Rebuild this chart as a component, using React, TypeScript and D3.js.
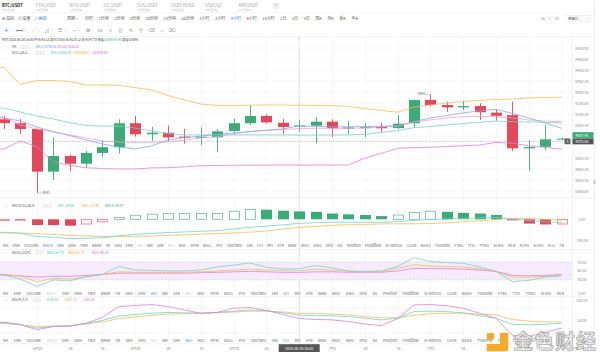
import React from "react";
import * as d3 from "d3";

const W = 600;
const H = 352;
const FONT = '"Noto Sans CJK SC", "Noto Sans", sans-serif';

const GREEN = "#3dab78";
const RED = "#e2475a";
const TEAL = "#72d3c6";
const ORANGE = "#f2bd5a";
const MAGENTA = "#e07fd6";
const BLUE = "#8ea5ea";
const PINK = "#f2a5cb";
const ACTIVE = "#3b7df0";
const GRID = "#f2f2f2";
const AXIS_TXT = "#8a8a8a";

// ---------- categories / labels ----------
const pairs = ["BTC/USDT", "ETH/USDT", "BCH/USDT", "LTC/USDT", "EOS/USDT", "USDT/HUSD", "USDT/QC", "XRP/USDT"];
const pairSub = "火币全球站";
const periods = ["分时", "1分钟", "3分钟", "5分钟", "10分钟", "15分钟", "30分钟", "1小时", "2小时", "4小时", "6小时", "12小时", "1日", "3日", "5日", "周K", "月K", "季K", "年K"];
const activePeriod = "4小时";
const indicatorTabs = ["MA", "EMA", "VOLUME", "MACD", "DMI", "DMA", "TRIX", "BRAR", "VR", "OBV", "EMV", "RSI", "WR", "SAR", "KDJ", "ROC", "MTM", "BOLL", "PSY", "StochRSI", "SMI", "CCI", "MFI", "ATR", "BBW", "SKDJ", "BIAS", "DPO", "AO", "Position", "Fundflow", "AI-NetVOL", "LSUR", "BASIS", "TVolume", "FTBS", "TTSI", "TTMU", "AI-BSI", "MLR", "AI-PD", "AI-FDI", "AI-LI", "FR"];
const toolIcons = ["✛", "⟷", "⟋", "⊿", "☰", "⤳", "⊞", "Aa", "⌗", "⊘", "✎", "⚲", "⌫", "⌂", "⌦"];

const axisLabelIndex = [2, 4, 6, 8, 10, 12, 14, 16, 20, 22, 24, 26, 28, 30, 32];
const axisLabels = ["6月28", "08", "16", "6月29", "08", "16", "6月30", "08", "7月1", "08", "16", "7月2", "08", "16", "7月3"];
const crossIndex = 18;
const crossTime = "2020-06-30 16:00";
const crossPrice = 9075.68;
const lastPrice = 9087.91;
const lowMark = 8841;
const highMark = 9290;

const priceLabelTicks = [9500, 9450, 9400, 9350, 9300, 9250, 9200, 9150, 9000, 8950, 8900, 8850];
const priceGridTicks = [9500, 9450, 9400, 9350, 9300, 9250, 9200, 9150, 9100, 9050, 9000, 8950, 8900, 8850];
const macdTicks = [0, -100];
const rsiTicks = [70, 50, 30, 0];
const kdjTicks = [100, 50];

// ---------- candles (4h) ----------
const opens = [9176, 9158, 9132, 8938, 9009, 8974, 9023, 9049, 9158, 9108, 9115, 9097, 9092, 9094, 9123, 9158, 9191, 9160, 9143.13, 9147, 9165, 9133, 9138, 9141, 9136, 9158, 9264, 9241, 9230, 9236, 9206, 9195, 9044, 9051, 9084];
const highs = [9191, 9177, 9132, 9092, 9017, 9032, 9080, 9176, 9191, 9142, 9147, 9132, 9140, 9132, 9180, 9238, 9199, 9177, 9173.65, 9186, 9176, 9170, 9158, 9160, 9195, 9266, 9290, 9256, 9260, 9249, 9218, 9256, 9079, 9150, 9092];
const lows = [9132, 9110, 8841, 8900, 8941, 8956, 9006, 9021, 9097, 9077, 9077, 9065, 9059, 9026, 9105, 9150, 9156, 9110, 9119.12, 9067, 9095, 9108, 9094, 9117, 9132, 9138, 9233, 9210, 9218, 9173, 9170, 9032, 8941, 9036, 9082];
const closes = [9158, 9132, 8938, 9009, 8974, 9023, 9049, 9158, 9108, 9115, 9094, 9092, 9097, 9121, 9158, 9191, 9162, 9141, 9147.73, 9165, 9135, 9139, 9140, 9135, 9156, 9264, 9241, 9230, 9236, 9208, 9192, 9044, 9050, 9085, 9087.91];

// ---------- overlays ----------
const ma7 = [9182, 9168, 9141, 9120, 9102, 9082, 9064, 9050, 9041, 9055, 9082, 9093, 9100, 9107, 9114, 9120, 9127, 9132, 9146.35, 9143, 9142, 9142, 9143, 9143, 9147, 9165, 9182, 9193, 9205, 9214, 9221, 9203, 9182, 9159, 9135];
const ma10 = [9186, 9150, 9132, 9118, 9105, 9091, 9077, 9073, 9071, 9071, 9073, 9082, 9091, 9097, 9109, 9120, 9125, 9130, 9133.33, 9135, 9135, 9135, 9136, 9141, 9145, 9164, 9173, 9182, 9188, 9189, 9188, 9182, 9173, 9168, 9165];
const bollMid = [9227, 9209, 9191, 9177, 9161, 9148, 9145, 9145, 9136, 9123, 9111, 9105, 9105, 9105, 9105, 9105, 9105, 9105, 9103.73, 9104, 9105, 9105, 9107, 9116, 9125, 9138, 9143, 9150, 9157, 9162, 9168, 9165, 9164, 9162, 9160];
const bollUp = [9412, 9335, 9352, 9352, 9348, 9332, 9332, 9330, 9320, 9309, 9284, 9264, 9245, 9239, 9238, 9240, 9241, 9241, 9239.61, 9239, 9238, 9234, 9225, 9216, 9208, 9232, 9241, 9250, 9257, 9262, 9266, 9268, 9273, 9275, 9276];
const bollLow = [9041, 9077, 9051, 8983, 8966, 8956, 8952, 8950, 8950, 8955, 8956, 8960, 8965, 8966, 8967, 8967, 8968, 8968, 8968.05, 8968, 8968, 8968, 8999, 9021, 9044, 9047, 9049, 9052, 9056, 9059, 9071, 9067, 9056, 9048, 9040];

// ---------- MACD ----------
const macdHist = [-5, -4, -27, -27, -30, -22, -12, 8, 19, 24, 27, 27, 27, 27, 38, 46, 45, 40, 36.97, 35, 27, 23, 20, 15, 20, 32, 38, 35, 30, 27, 20, -5, -20, -24, -22];
const macdDif = [-63, -66, -80, -84, -90, -89, -86, -77, -70, -66, -62, -59, -56, -53, -45, -37, -32, -26, -19.0, -16, -14, -14, -14, -14, -11, -5, -1, 1, 4, 7, 9, 2, -6, -12, -15];
const macdDea = [-60.5, -64, -67, -71, -75, -78, -80, -81, -79.5, -78, -75.5, -72.5, -69.5, -66.5, -64, -60, -54.5, -46, -37.49, -33.5, -27.5, -25.5, -24, -21.5, -21, -21, -20, -16.5, -11, -6.5, -1, 4.5, 4, 0, -4];

// ---------- RSI ----------
const rsi1 = [41, 32, 15, 30, 27.5, 37, 42.5, 60, 52, 51.5, 50, 50, 52, 59, 63, 68, 58, 54.5, 54.73, 62, 57, 50, 49, 50, 60, 80, 71, 69, 67, 59, 49, 26, 29, 36.5, 39];
const rsi2 = [42.5, 38, 26, 33.5, 32, 37, 42, 48, 47, 47, 47, 47, 48, 50, 52, 54, 52, 51, 50.17, 54, 52, 49, 48, 48, 56, 64, 61, 60, 59, 55, 49, 36, 36, 38, 41];
const rsi3 = [41, 39, 36, 38, 38, 40, 42, 45, 45, 45, 45, 45, 46, 47, 48, 49, 48, 47, 46.76, 48, 48, 47, 47, 47, 50, 56, 55, 55, 54, 52, 49, 40, 39, 40, 42];

// ---------- KDJ ----------
const kdjK = [45, 40, 32, 36, 37, 43, 51, 61, 65, 68, 70, 69, 68, 70, 73, 76, 74, 69, 63.51, 62, 62, 60, 56, 52, 56, 72, 73, 72, 69, 62, 56, 41, 40, 41, 44];
const kdjD = [44, 40, 36, 37, 38, 43, 47, 55, 59, 63, 66, 67, 68, 69, 71, 73, 73, 71, 67.71, 67, 66, 64, 60, 57, 57, 63, 67, 68, 68, 66, 64, 53, 49, 47, 47];
const kdjJ = [46, 41, 28, 36, 37, 44, 58, 84, 87, 89, 84, 76, 68, 70, 80, 82, 75, 65, 55.1, 53, 52, 48, 42, 38, 55, 88, 89, 86, 80, 68, 56, 15, 12, 22, 32];

// ---------- helpers ----------
let ctx: CanvasRenderingContext2D | null = null;
function measure(text: string, size: number, weight = "normal") {
  if (!ctx) ctx = document.createElement("canvas").getContext("2d");
  if (!ctx) return text.length * size * 0.55;
  ctx.font = `${weight} ${size}px ${FONT}`;
  return ctx.measureText(text).width;
}
function justify(words: string[], size: number, x0: number, x1: number) {
  const ws = words.map((w) => measure(w, size));
  const total = ws.reduce((a, b) => a + b, 0);
  const gap = (x1 - x0 - total) / (words.length - 1);
  let cx = x0;
  return words.map((w, i) => {
    const r = { w, x: cx };
    cx += ws[i] + gap;
    return r;
  });
}

function Boxes({ x, y }: { x: number; y: number }) {
  return (
    <g fill="none" stroke="#c6c6c6" strokeWidth={0.4}>
      <rect x={x} y={y - 2.6} width={3} height={3} rx={0.4} />
      <rect x={x + 4.4} y={y - 2.6} width={3} height={3} rx={0.4} />
    </g>
  );
}

function TabRow({ words, y, active, dim }: { words: string[]; y: number; active: string; dim: string[] }) {
  const laid = justify(words, 3.7, 3, 564);
  return (
    <g fontSize={3.7}>
      {laid.map((d, i) => (
        <text key={i} x={d.x} y={y} fill={d.w === active ? ACTIVE : dim.includes(d.w) ? "#c9c9c9" : "#666"}>
          {d.w}
        </text>
      ))}
    </g>
  );
}

export default function App() {
  const n = opens.length;
  const idx = d3.range(n);
  const x = d3.scaleLinear().domain([0, n - 1]).range([4, 561.6]);
  const cxs = idx.map((i) => Math.round(x(i)) + 0.5);
  const yMain = d3.scaleLinear().domain([8850, 9500]).range([191, 48]);
  const yMacd = d3.scaleLinear().domain([-100, 0]).range([240.7, 219.3]);
  const yRsi = d3.scaleLinear().domain([0, 70]).range([293.3, 262]);
  const yKdj = d3.scaleLinear().domain([0, 100]).range([341.4, 300]);

  const PLOT_R = 572;
  const path = (arr: number[], y: d3.ScaleLinear<number, number>) => {
    const pts: [number, number][] = [[0, y(arr[0])], ...arr.map((v, i) => [x(i), y(v)] as [number, number])];
    return d3.line()(pts) || "";
  };

  const bodyW = 11;
  const crossY = yMain(crossPrice);
  const darkCenter = crossY;
  const greenCenter = Math.min(yMain(lastPrice), darkCenter - 6.2);
  const axisX = 582;

  const periodLaid = justify(periods, 4, 85, 358);

  return (
    <div style={{ position: "fixed", left: 0, top: 0, width: W, height: H, background: "#fff" }}>
      <svg width={W} height={H} style={{ display: "block", fontFamily: FONT }}>
        <defs>
          <clipPath id="mainClip">
            <rect x={0} y={36.5} width={PLOT_R} height={161} />
          </clipPath>
          <clipPath id="subClip">
            <rect x={0} y={198} width={PLOT_R} height={146} />
          </clipPath>
        </defs>
        <rect x={0} y={0} width={W} height={H} fill="#fff" />

        {/* ---------- header ---------- */}
        <g>
          {pairs.map((p, i) => (
            <g key={p}>
              <text x={2 + i * 33.8} y={7} fontSize={4.2} fontWeight={i === 0 ? 700 : 400} fill={i === 0 ? "#222" : "#9a9a9a"}>
                {p}
              </text>
              <text x={2 + i * 33.8} y={11.4} fontSize={2.5} fill="#b5b5b5">
                {pairSub}
              </text>
            </g>
          ))}
          <rect x={273.5} y={3.5} width={5} height={5} fill="#f4f4f4" stroke="#d8d8d8" strokeWidth={0.4} />
          <text x={276} y={7.3} fontSize={4} fill="#aaa" textAnchor="middle">
            ×
          </text>
          <line x1={0} x2={594} y1={12.8} y2={12.8} stroke="#ececec" strokeWidth={0.6} />

          {/* row 2 */}
          <g fontSize={4} fill="#555">
            <text x={2} y={19.7}>⊟</text>
            <text x={6.5} y={19.7}>指标</text>
            <text x={18} y={19.7}>⊙</text>
            <text x={22.5} y={19.7}>设置</text>
            <text x={34} y={19.7} fill={ACTIVE}>⤢</text>
            <text x={38.5} y={19.7} fill={ACTIVE}>画线</text>
            <text x={67} y={19.7}>周期</text>
            <text x={75.5} y={19.5} fontSize={2.6} fill="#888">▾</text>
            {periodLaid.map((d, i) => (
              <text key={i} x={d.x} y={19.7} fill={d.w === activePeriod ? ACTIVE : "#555"}>
                {d.w}
              </text>
            ))}
            <text x={541} y={19.7} fontSize={3.6} fill="#666">1s</text>
            <text x={548} y={19.7} fontSize={4} fill="#777">⛶</text>
            <text x={555} y={19.7} fontSize={4} fill="#777">❐</text>
            <rect x={566} y={15.3} width={24.5} height={6} fill="#fff" stroke="#dcdcdc" strokeWidth={0.5} rx={0.6} />
            <text x={568} y={19.6} fontSize={3.4} fill="#444">单窗口</text>
            <text x={586.5} y={19.3} fontSize={2.4} fill="#888">▾</text>
          </g>

          {/* row 3 tool icons */}
          <g fontSize={4.6} fill="#8d8d8d" textAnchor="middle">
            {toolIcons.map((g, i) => {
              const ix = i < 7 ? 6 + i * 13.6 : 100 + (i - 7) * 10.3;
              return (
                <g key={i}>
                  <text x={ix} y={31.8} fill={i === 0 ? ACTIVE : "#8d8d8d"} fontSize={g === "Aa" ? 3.8 : 4.6}>
                    {g}
                  </text>
                  {i < 7 && (
                    <text x={ix + 5} y={31.4} fontSize={2.3} fill="#9a9a9a">
                      ▾
                    </text>
                  )}
                </g>
              );
            })}
          </g>
          <line x1={0} x2={594} y1={36.5} y2={36.5} stroke="#ececec" strokeWidth={0.6} />
        </g>

        {/* ---------- grids ---------- */}
        <g stroke={GRID} strokeWidth={0.6}>
          {priceGridTicks.map((t) => (
            <line key={t} x1={0} x2={PLOT_R} y1={yMain(t)} y2={yMain(t)} />
          ))}
          {d3.range(2, n, 2).map((i) => (
            <line key={i} x1={cxs[i]} x2={cxs[i]} y1={36.5} y2={343.8} />
          ))}
        </g>

        {/* pane separators */}
        <g stroke="#e6e6e6" strokeWidth={0.6}>
          <line x1={0} x2={594} y1={197.8} y2={197.8} />
          <line x1={0} x2={594} y1={249.6} y2={249.6} />
          <line x1={0} x2={594} y1={296.8} y2={296.8} />
          <line x1={0} x2={594} y1={343.8} y2={343.8} />
          <line x1={PLOT_R + 0.3} x2={PLOT_R + 0.3} y1={36.5} y2={343.8} />
          <line x1={594.5} x2={594.5} y1={0} y2={H} />
        </g>
        <rect x={593.6} y={180} width={1.8} height={4} fill="#bdbdbd" />

        {/* ---------- main pane ---------- */}
        <g clipPath="url(#mainClip)">
          {idx.map((i) => {
            const up = closes[i] >= opens[i];
            const c = up ? GREEN : RED;
            const top = yMain(Math.max(opens[i], closes[i]));
            const bot = yMain(Math.min(opens[i], closes[i]));
            return (
              <g key={i}>
                <line x1={cxs[i]} x2={cxs[i]} y1={yMain(highs[i])} y2={yMain(lows[i])} stroke={c} strokeWidth={0.9} />
                <rect x={cxs[i] - bodyW / 2} y={top} width={bodyW} height={Math.max(1, bot - top)} fill={c} />
              </g>
            );
          })}
          <g fill="none" strokeWidth={0.8}>
            <path d={path(bollUp, yMain)} stroke={ORANGE} />
            <path d={path(bollMid, yMain)} stroke={TEAL} />
            <path d={path(bollLow, yMain)} stroke={MAGENTA} />
            <path d={path(ma10, yMain)} stroke={PINK} />
            <path d={path(ma7, yMain)} stroke={BLUE} />
          </g>
          <line x1={0} x2={PLOT_R} y1={crossY} y2={crossY} stroke="#9a9a9a" strokeWidth={0.6} strokeDasharray="1.2,1.2" />
        </g>

        {/* high / low markers */}
        <g fontSize={3.3} fill="#666">
          <line x1={cxs[2] + 1} x2={cxs[2] + 4} y1={yMain(lowMark)} y2={yMain(lowMark)} stroke="#888" strokeWidth={0.5} />
          <text x={cxs[2] + 5} y={yMain(lowMark) + 1.1}>{lowMark}</text>
          <line x1={cxs[26] - 5} x2={cxs[26] - 1} y1={yMain(highMark)} y2={yMain(highMark)} stroke="#888" strokeWidth={0.5} />
          <text x={cxs[26] - 5.5} y={yMain(highMark) + 1.1} textAnchor="end">{highMark}</text>
        </g>

        {/* vertical crosshair */}
        <line x1={x(crossIndex)} x2={x(crossIndex)} y1={36.5} y2={343.8} stroke="#aaa" strokeWidth={0.5} strokeDasharray="1.2,1.2" />

        {/* main legend */}
        <g fontSize={3.1}>
          <text x={2} y={41.2} fill="#444">
            时间:2020-06-30 16:00{"  "}开:9143.13{"  "}高:9173.65{"  "}低:9119.12{"  "}收:9147.73{"  "}涨幅:
            <tspan fill={GREEN}>0.05%(4.59)</tspan>
            {"  "}振幅:0.60%
          </text>
          <text x={3.5} y={47.9} fill="#777" fontSize={3}>˅</text>
          <text x={12} y={47.9} fill="#555">MA</text>
          <Boxes x={21} y={47.9} />
          <text x={36} y={47.9} fill="#6d8fe6">MA(7):9146.35</text>
          <text x={57} y={47.9} fill="#e56db8">MA(10):9133.33</text>
          <text x={12} y={54} fill="#555">BOLL(20,2)</text>
          <Boxes x={36} y={54} />
          <text x={51} y={54} fill="#3cc4b2">BOLL:9103.73</text>
          <text x={73} y={54} fill="#f0a72a">UB:9239.61</text>
          <text x={92} y={54} fill="#d95fcf">LB:8968.05</text>
        </g>

        {/* price axis */}
        <g fontSize={3.7} fill={AXIS_TXT} textAnchor="middle" dominantBaseline="central">
          {priceLabelTicks.map((t) => (
            <text key={t} x={axisX} y={yMain(t)}>
              {t.toFixed(2)}
            </text>
          ))}
        </g>
        <rect x={PLOT_R + 0.5} y={greenCenter - 3} width={21} height={6} fill={GREEN} />
        <text x={axisX} y={greenCenter} fontSize={3.6} fill="#fff" textAnchor="middle" dominantBaseline="central">
          {lastPrice.toFixed(2)}
        </text>
        <rect x={PLOT_R + 0.5} y={darkCenter - 3} width={21} height={6} fill="#555" />
        <text x={axisX} y={darkCenter} fontSize={3.6} fill="#fff" textAnchor="middle" dominantBaseline="central">
          {crossPrice.toFixed(2)}
        </text>
        <rect x={564.5} y={darkCenter - 2.8} width={6} height={5.6} fill="#666" rx={0.5} />
        <text x={567.5} y={darkCenter + 0.1} fontSize={4.5} fill="#fff" textAnchor="middle" dominantBaseline="central">
          +
        </text>

        {/* ---------- MACD pane ---------- */}
        <g clipPath="url(#subClip)">
          {idx.map((i) => {
            const v = macdHist[i];
            const prev = i > 0 ? macdHist[i - 1] : v;
            const hollow = i === 0 ? true : v >= 0 ? v >= prev : v > prev;
            const c = v >= 0 ? GREEN : RED;
            const y0 = yMacd(0);
            const y1 = yMacd(v);
            const top = Math.min(y0, y1);
            const h = Math.max(0.8, Math.abs(y1 - y0));
            return hollow ? (
              <rect key={i} x={cxs[i] - bodyW / 2 + 0.4} y={top} width={bodyW - 0.8} height={h} fill="#fff" stroke={c} strokeWidth={0.7} opacity={0.85} />
            ) : (
              <rect key={i} x={cxs[i] - bodyW / 2} y={top} width={bodyW} height={h} fill={c} />
            );
          })}
          <g fill="none" strokeWidth={0.8}>
            <path d={path(macdDea, yMacd)} stroke={ORANGE} />
            <path d={path(macdDif, yMacd)} stroke={TEAL} />
          </g>
        </g>
        <g fontSize={3.4}>
          <text x={4} y={206.9} fill="#999">—</text>
          <text x={12} y={206.9} fill="#555">MACD(12,26,9)</text>
          <Boxes x={43} y={206.9} />
          <text x={58} y={206.9} fill="#3cc4b2">DIF:-19.00</text>
          <text x={82} y={206.9} fill="#f0a72a">DEA:-37.49</text>
          <text x={105} y={206.9} fill={GREEN}>MACD:36.97</text>
        </g>
        <g fontSize={3.7} fill={AXIS_TXT} textAnchor="middle" dominantBaseline="central">
          {macdTicks.map((t) => (
            <text key={t} x={axisX} y={yMacd(t)}>
              {t.toFixed(2)}
            </text>
          ))}
        </g>
        <TabRow words={indicatorTabs} y={247.3} active="MACD" dim={["RSI", "KDJ"]} />

        {/* ---------- RSI pane ---------- */}
        <rect x={0} y={yRsi(70)} width={PLOT_R} height={yRsi(30) - yRsi(70)} fill="#f6ebfd" />
        <g stroke="#cdbfd8" strokeWidth={0.5} strokeDasharray="2,1.5">
          <line x1={0} x2={PLOT_R} y1={yRsi(70)} y2={yRsi(70)} />
          <line x1={0} x2={PLOT_R} y1={yRsi(30)} y2={yRsi(30)} />
        </g>
        <g clipPath="url(#subClip)" fill="none" strokeWidth={0.8}>
          <path d={path(rsi3, yRsi)} stroke={MAGENTA} />
          <path d={path(rsi2, yRsi)} stroke={ORANGE} />
          <path d={path(rsi1, yRsi)} stroke={TEAL} />
        </g>
        <g fontSize={3.4}>
          <text x={4} y={253.6} fill="#999">—</text>
          <text x={12} y={253.6} fill="#555">RSI(6,12,24)</text>
          <Boxes x={36} y={253.6} />
          <text x={47} y={253.6} fill="#3cc4b2">RSI1:54.73</text>
          <text x={68} y={253.6} fill="#f0a72a">RSI2:50.17</text>
          <text x={92} y={253.6} fill="#d95fcf">RSI3:46.76</text>
        </g>
        <g fontSize={3.7} fill={AXIS_TXT} textAnchor="middle" dominantBaseline="central">
          {rsiTicks.map((t) => (
            <text key={t} x={axisX} y={yRsi(t)}>
              {t.toFixed(2)}
            </text>
          ))}
        </g>
        <TabRow words={indicatorTabs.slice(0, 40)} y={294.6} active="RSI" dim={["MACD", "KDJ"]} />

        {/* ---------- KDJ pane ---------- */}
        <g stroke="#dcdcdc" strokeWidth={0.5} strokeDasharray="2,1.5">
          <line x1={0} x2={PLOT_R} y1={yKdj(80)} y2={yKdj(80)} />
          <line x1={0} x2={PLOT_R} y1={yKdj(20)} y2={yKdj(20)} />
        </g>
        <g clipPath="url(#subClip)" fill="none" strokeWidth={0.8}>
          <path d={path(kdjD, yKdj)} stroke={ORANGE} />
          <path d={path(kdjK, yKdj)} stroke={TEAL} />
          <path d={path(kdjJ, yKdj)} stroke={MAGENTA} />
        </g>
        <g fontSize={3.4}>
          <text x={4} y={301.3} fill="#999">—</text>
          <text x={12} y={301.3} fill="#555">KDJ(9,3,3)</text>
          <Boxes x={33} y={301.3} />
          <text x={47} y={301.3} fill="#3cc4b2">K:63.51</text>
          <text x={65} y={301.3} fill="#f0a72a">D:67.71</text>
          <text x={83} y={301.3} fill="#d95fcf">J:55.10</text>
        </g>
        <g fontSize={3.7} fill={AXIS_TXT} textAnchor="middle" dominantBaseline="central">
          {kdjTicks.map((t) => (
            <text key={t} x={axisX} y={yKdj(t)}>
              {t.toFixed(2)}
            </text>
          ))}
        </g>
        <TabRow words={indicatorTabs.slice(0, 40)} y={341.6} active="KDJ" dim={["MACD", "RSI"]} />

        {/* ---------- date axis ---------- */}
        <g fontSize={3.6} fill={AXIS_TXT} textAnchor="middle">
          {axisLabelIndex.map((i, k) => (
            <text key={k} x={cxs[i]} y={349.7}>
              {axisLabels[k]}
            </text>
          ))}
        </g>
        <rect x={x(crossIndex) - 20.5} y={344.2} width={41} height={7.8} fill="#555" />
        <text x={x(crossIndex)} y={348.4} fontSize={3.6} fill="#fff" textAnchor="middle" dominantBaseline="central">
          {crossTime}
        </text>
        <g fontSize={3.3}>
          <text x={572.5} y={349.5} fill="#888">对数</text>
          <text x={582} y={349.5} fill="#888">%</text>
          <text x={587.5} y={349.5} fill={ACTIVE}>自动</text>
        </g>

        {/* ---------- watermark ---------- */}
        <g opacity={0.95}>
          <rect x={486.7} y={333} width={7.3} height={6.7} fill="#f5a623" rx={0.8} />
          <path d="M500 333 H508.3 V349 Q508.3 351.3 506 351.3 H486.7 V344 H500 Z" fill="#f5a623" />
          <text x={513} y={349} fontSize={20} fontWeight={700} fill="#e9e9e9" stroke="#8f8f8f" strokeWidth={0.6} letterSpacing={1}>
            金色财经
          </text>
        </g>
      </svg>
    </div>
  );
}
